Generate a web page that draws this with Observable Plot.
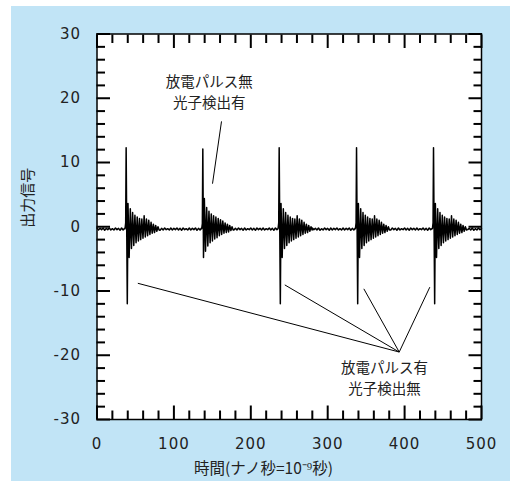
<!DOCTYPE html>
<html><head><meta charset="utf-8">
<script src="https://cdn.jsdelivr.net/npm/d3@7"></script>
<script src="https://cdn.jsdelivr.net/npm/@observablehq/plot@0.6"></script>
<style>
html,body{margin:0;padding:0;background:#fff;}
#chart{position:absolute;left:11px;top:6px;}
#chart g[aria-label="x-axis tick label"] text, #chart g[aria-label="y-axis tick label"] text{letter-spacing:1px;}
</style></head><body><div id="chart"></div>
<script>
// ---- data ----
const pulsePeakTimes = [37.9, 137.6, 236.9, 337.5, 437.6];
const pulseKinds = ["discharge", "photon", "discharge", "discharge", "discharge"];

const dischargeOffsets = [-1.4,-0.6,0,0.7,1.5,2.4,3.9,5.4,6.9,8.4,9.9,11.4,12.9,14.4,15.9,17.4,18.9,20.4,21.9,23.4,24.9,26.4,27.9,29.4,30.9,32.4,33.9,35.4,36.9,38.4,39.9,41.4,42.9];
const dischargeValues  = [-0.3,0.6,12.3,0.5,-12.0,3.6,-4.8,2.8,-3.4,2.2,-2.9,1.8,-2.5,1.5,-2.2,1.3,-2.0,1.2,-1.8,1.7,-1.6,1.2,-1.4,1.0,-1.2,0.7,-1.0,0.4,-0.9,0.2,-0.7,0.0,-0.5];

const photonOffsets = [-1.4,-0.6,0,0.9,2.0,3.5,5.0,6.5,8.0,9.5,11.0,12.5,14.0,15.5,17.0,18.5,20.0,21.5,23.0,24.5,26.0,27.5,29.0,30.5,32.0,33.5,35.0,36.5,38.0,39.5];
const photonValues  = [-0.3,0.5,12.1,-4.8,4.4,-3.8,3.0,-3.0,2.4,-2.5,2.0,-2.2,1.7,-1.9,1.5,-1.7,1.3,-1.4,1.1,-1.2,0.9,-1.0,0.6,-0.9,0.4,-0.8,0.2,-0.6,0.0,-0.5];

const baselineStep = 2;
const baselineValues = [
-0.2,-0.5,-0.25,-0.45,-0.2,-0.55,-0.25,-0.45,-0.2,-0.5,
-0.3,-0.5,-0.2,-0.45,-0.25,-0.55,-0.2,-0.5,-0.25,-0.45,
-0.2,-0.5,-0.3,-0.45,-0.2,-0.5,-0.25,-0.55,-0.2,-0.45,
-0.25,-0.5,-0.2,-0.45,-0.3,-0.5,-0.2,-0.55,-0.25,-0.45,
-0.2,-0.55,-0.25,-0.5,-0.2,-0.45,-0.3,-0.5,-0.2,-0.5,
-0.25,-0.45,-0.2,-0.5,-0.25,-0.55,-0.2,-0.45,-0.3,-0.5,
-0.2,-0.5,-0.25,-0.45,-0.2,-0.55,-0.25,-0.5,-0.2,-0.45,
-0.3,-0.5,-0.2,-0.55,-0.25,-0.45,-0.2,-0.5,-0.25,-0.5,
-0.2,-0.45,-0.3,-0.5,-0.2,-0.55,-0.25,-0.45,-0.2,-0.5,
-0.25,-0.5,-0.2,-0.45,-0.25,-0.55,-0.2,-0.5,-0.3,-0.45,
-0.2,-0.5,-0.25,-0.55,-0.2,-0.45,-0.25,-0.5,-0.2,-0.5,
-0.3,-0.45,-0.2,-0.5,-0.25,-0.55,-0.2,-0.45,-0.25,-0.5,
-0.2,-0.55,-0.3,-0.45,-0.2,-0.5,-0.25,-0.5,-0.2,-0.45,
-0.25,-0.5,-0.2,-0.55,-0.3,-0.45,-0.2,-0.5,-0.25,-0.5,
-0.2,-0.45,-0.25,-0.5,-0.2,-0.55,-0.3,-0.5,-0.2,-0.45,
-0.25,-0.55,-0.2,-0.5,-0.25,-0.45,-0.2,-0.5,-0.3,-0.5,
-0.2,-0.5,-0.25,-0.45,-0.2,-0.55,-0.25,-0.5,-0.2,-0.45,
-0.3,-0.5,-0.2,-0.55,-0.25,-0.45,-0.2,-0.5,-0.25,-0.5,
-0.2,-0.45,-0.3,-0.5,-0.2,-0.55,-0.25,-0.45,-0.2,-0.5,
-0.25,-0.5,-0.2,-0.45,-0.25,-0.55,-0.2,-0.5,-0.3,-0.45,
-0.2,-0.5,-0.25,-0.55,-0.2,-0.45,-0.25,-0.5,-0.2,-0.5,
-0.3,-0.45,-0.2,-0.5,-0.25,-0.55,-0.2,-0.45,-0.25,-0.5,
-0.2,-0.55,-0.3,-0.45,-0.2,-0.5,-0.25,-0.5,-0.2,-0.45,
-0.25,-0.5,-0.2,-0.55,-0.3,-0.45,-0.2,-0.5,-0.25,-0.5,
-0.2,-0.45,-0.25,-0.5,-0.2,-0.55,-0.3,-0.5,-0.2,-0.45,
-0.3
];

const xMajorTicks = [0, 100, 200, 300, 400, 500];
const xMinorTicks = [20,40,60,80,120,140,160,180,220,240,260,280,320,340,360,380,420,440,460,480];
const yMajorTicks = [-30, -20, -10, 0, 10, 20, 30];
const yMinorTicks = [-28,-26,-24,-22,-18,-16,-14,-12,-8,-6,-4,-2,2,4,6,8,12,14,16,18,22,24,26,28];

const xTitle = "時間(ナノ秒=10⁻⁹秒)";
const yTitle = "出力信号";

const annotationTexts = ["放電パルス無\n光子検出有", "放電パルス有\n光子検出無"];
const annotationX = [145.9, 374];
const annotationY = [21.1, -23.4];

const leaderX1 = [161.9, 53.1, 244.2, 347.0, 432.8];
const leaderY1 = [16.4, -8.8, -9.05, -9.66, -9.4];
const leaderX2 = [150.2, 393, 393, 393, 393];
const leaderY2 = [6.7, -19.5, -19.5, -19.5, -19.5];

// ---- assemble series ----
const signal = [];
const windows = pulsePeakTimes.map((p, k) => {
  const offs = pulseKinds[k] === "photon" ? photonOffsets : dischargeOffsets;
  return [p + offs[0], p + offs[offs.length - 1]];
});
baselineValues.forEach((v, i) => {
  const t = i * baselineStep;
  if (t > 500) return;
  if (windows.some(([a, b]) => t >= a && t <= b)) return;
  signal.push({t, v});
});
pulsePeakTimes.forEach((p, k) => {
  const photon = pulseKinds[k] === "photon";
  const offs = photon ? photonOffsets : dischargeOffsets;
  const vals = photon ? photonValues : dischargeValues;
  offs.forEach((o, j) => { if (p + o <= 500) signal.push({t: p + o, v: vals[j]}); });
});
signal.sort((a, b) => a.t - b.t);

const annotations = annotationTexts.map((text, i) => ({text, x: annotationX[i], y: annotationY[i]}));
const leaders = leaderX1.map((x1, i) => ({x1, y1: leaderY1[i], x2: leaderX2[i], y2: leaderY2[i]}));

const numFont = "DejaVu Sans";
const jpFont = "'Noto Sans CJK JP'";
const MAJ = -13.5, MIN = -8.5, TW = 2;

const tickAxes = [];
for (const a of ["bottom", "top"]) {
  tickAxes.push(Plot.axisX(xMajorTicks, {anchor: a, tickSize: MAJ, fill: "none", strokeWidth: TW, label: null}));
  tickAxes.push(Plot.axisX(xMinorTicks, {anchor: a, tickSize: MIN, fill: "none", strokeWidth: TW, label: null}));
}
for (const a of ["left", "right"]) {
  tickAxes.push(Plot.axisY(yMajorTicks, {anchor: a, tickSize: MAJ, fill: "none", strokeWidth: TW, label: null}));
  tickAxes.push(Plot.axisY(yMinorTicks, {anchor: a, tickSize: MIN, fill: "none", strokeWidth: TW, label: null}));
}

const chart = Plot.plot({
  width: 499,
  height: 475,
  marginLeft: 85.5,
  marginRight: 29,
  marginTop: 27.5,
  marginBottom: 62,
  style: {background: "#c1e4f6", overflow: "visible"},
  x: {domain: [0, 500]},
  y: {domain: [-30, 30]},
  marks: [
    Plot.frame({fill: "white", stroke: "none"}),
    Plot.line(signal, {x: "t", y: "v", stroke: "black", strokeWidth: 1.5}),
    Plot.link(leaders, {x1: "x1", y1: "y1", x2: "x2", y2: "y2", stroke: "black", strokeWidth: 1}),
    Plot.text(annotations, {x: "x", y: "y", text: "text", fontFamily: jpFont, fontSize: 14.5, lineHeight: 1.45, fill: "#222"}),
    ...tickAxes,
    Plot.axisX(xMajorTicks, {anchor: "bottom", tickSize: 0, tickPadding: 18.5, stroke: "none", label: null, fontSize: 15, fontFamily: numFont, fill: "#222", tickFormat: d => String(d)}),
    Plot.axisY(yMajorTicks, {anchor: "left", tickSize: 0, tickPadding: 16, stroke: "none", label: null, fontSize: 15, fontFamily: numFont, fill: "#222", tickFormat: d => String(d)}),
    Plot.text([xTitle], {frameAnchor: "bottom", dx: -25.75, dy: 54, fontFamily: jpFont, fontSize: 15.5, fill: "#222"}),
    Plot.text([yTitle], {frameAnchor: "left", rotate: -90, dx: -68.5, dy: 1, fontFamily: jpFont, fontSize: 15, fill: "#222"}),
    Plot.frame({stroke: "black", strokeWidth: 1.5})
  ]
});
document.getElementById("chart").appendChild(chart);
</script></body></html>
